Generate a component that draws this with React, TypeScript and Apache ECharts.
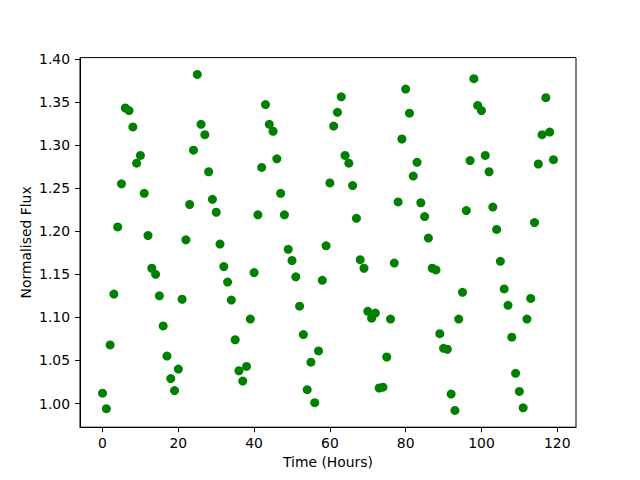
import React, { useEffect, useRef } from "react";
import * as echarts from "echarts";

const hours = [
  0, 1, 2, 3, 4, 5, 6, 7, 8, 9, 10, 11, 12, 13, 14, 15, 16, 17, 18, 19,
  20, 21, 22, 23, 24, 25, 26, 27, 28, 29, 30, 31, 32, 33, 34, 35, 36, 37, 38, 39,
  40, 41, 42, 43, 44, 45, 46, 47, 48, 49, 50, 51, 52, 53, 54, 55, 56, 57, 58, 59,
  60, 61, 62, 63, 64, 65, 66, 67, 68, 69, 70, 71, 72, 73, 74, 75, 76, 77, 78, 79,
  80, 81, 82, 83, 84, 85, 86, 87, 88, 89, 90, 91, 92, 93, 94, 95, 96, 97, 98, 99,
  100, 101, 102, 103, 104, 105, 106, 107, 108, 109, 110, 111, 112, 113, 114, 115, 116, 117, 118, 119,
];

const flux = [
  1.012, 0.994, 1.068, 1.127, 1.205, 1.255, 1.343, 1.340, 1.321, 1.279,
  1.288, 1.244, 1.195, 1.157, 1.150, 1.125, 1.090, 1.055, 1.029, 1.015,
  1.040, 1.121, 1.190, 1.231, 1.294, 1.382, 1.324, 1.312, 1.269, 1.237,
  1.222, 1.185, 1.159, 1.141, 1.120, 1.074, 1.038, 1.026, 1.043, 1.098,
  1.152, 1.219, 1.274, 1.347, 1.324, 1.316, 1.284, 1.244, 1.219, 1.179,
  1.166, 1.147, 1.113, 1.080, 1.016, 1.048, 1.001, 1.061, 1.143, 1.183,
  1.256, 1.322, 1.338, 1.356, 1.288, 1.279, 1.253, 1.215, 1.167, 1.157,
  1.107, 1.099, 1.105, 1.018, 1.019, 1.054, 1.098, 1.163, 1.234, 1.307,
  1.365, 1.337, 1.264, 1.280, 1.233, 1.217, 1.192, 1.157, 1.155, 1.081,
  1.064, 1.063, 1.011, 0.992, 1.098, 1.129, 1.224, 1.282, 1.377, 1.346,
  1.340, 1.288, 1.269, 1.228, 1.202, 1.165, 1.133, 1.114, 1.077, 1.035,
  1.014, 0.995, 1.098, 1.122, 1.210, 1.278, 1.312, 1.355, 1.315, 1.283,
];

const xTicks = [0, 20, 40, 60, 80, 100, 120];
const yTicks = [1.0, 1.05, 1.1, 1.15, 1.2, 1.25, 1.3, 1.35, 1.4];

const FONT = "DejaVu Sans";
const FS = 13.9;

export default function App() {
  const ref = useRef<HTMLDivElement>(null);

  useEffect(() => {
    if (!ref.current) return;
    const chart = echarts.init(ref.current, null, {
      renderer: "svg",
      width: 640,
      height: 480,
    });

    const xMinD = Math.min(...hours);
    const xMaxD = Math.max(...hours);
    const yMinD = Math.min(...flux);
    const yMaxD = Math.max(...flux);
    const xPad = (xMaxD - xMinD) * 0.05;
    const yPad = (yMaxD - yMinD) * 0.05;

    const axisCommon = {
      axisLine: { show: true, onZero: false, lineStyle: { color: "#000", width: 1 } },
      axisTick: { show: true, inside: false, length: 5, lineStyle: { color: "#000", width: 1 } },
      splitLine: { show: false },
      nameMoveOverlap: false,
      nameTextStyle: { color: "#000", fontFamily: FONT, fontSize: FS },
    };

    chart.setOption({
      animation: false,
      backgroundColor: "#fff",
      grid: {
        left: 80,
        right: 64,
        top: 57.6,
        bottom: 52.8,
        show: true,
        borderColor: "#000",
        borderWidth: 1,
        backgroundColor: "transparent",
        containLabel: false,
        outerBoundsMode: "none",
      },
      xAxis: {
        type: "value",
        min: xMinD - xPad,
        max: xMaxD + xPad,
        name: "Time (Hours)",
        nameLocation: "middle",
        nameGap: 28,
        ...axisCommon,
        axisTick: { ...axisCommon.axisTick, customValues: xTicks },
        axisLabel: {
          customValues: xTicks,
          margin: 9,
          color: "#000",
          fontFamily: FONT,
          fontSize: FS,
          formatter: (v: number) => String(Math.round(v)),
        },
      },
      yAxis: {
        type: "value",
        min: yMinD - yPad,
        max: yMaxD + yPad,
        name: "Normalised Flux",
        nameLocation: "middle",
        nameGap: 47,
        ...axisCommon,
        axisTick: { ...axisCommon.axisTick, customValues: yTicks },
        axisLabel: {
          customValues: yTicks,
          margin: 10,
          color: "#000",
          fontFamily: FONT,
          fontSize: FS,
          formatter: (v: number) => v.toFixed(2),
        },
      },
      series: [
        {
          type: "scatter",
          data: hours.map((h, i) => [h, flux[i]]),
          symbol: "circle",
          symbolSize: 9,
          itemStyle: { color: "#008000", opacity: 1 },
        },
      ],
    });

    return () => chart.dispose();
  }, []);

  return (
    <div
      ref={ref}
      style={{ position: "fixed", left: 0, top: 0, width: 640, height: 480 }}
    />
  );
}
